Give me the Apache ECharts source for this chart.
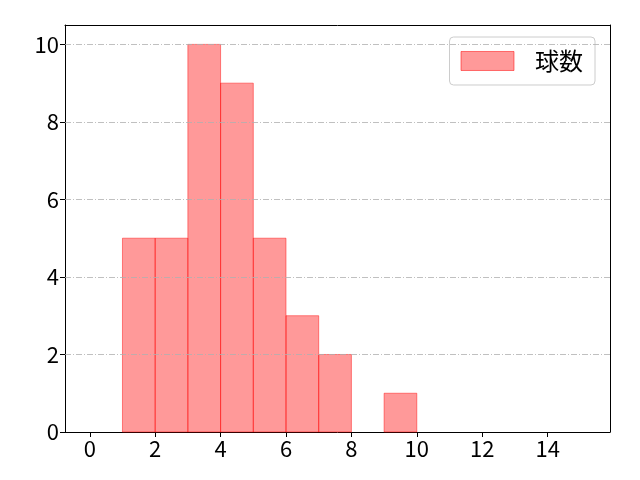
<!DOCTYPE html>
<html><head><meta charset="utf-8">
<script src="https://cdn.jsdelivr.net/npm/echarts@6/dist/echarts.min.js"></script>
<style>html,body{margin:0;padding:0;background:#fff}#c{width:640px;height:480px}</style>
</head><body><div id="c"></div>
<script>
var binStarts = [0,1,2,3,4,5,6,7,8,9,10,11,12,13,14];
var binEnds   = [1,2,3,4,5,6,7,8,9,10,11,12,13,14,15];
var counts    = [0,5,5,10,9,5,3,2,0,1,0,0,0,0,0];
var xTicks = [0,2,4,6,8,10,12,14];
var yTicks = [0,2,4,6,8,10];
var seriesName = '球数';

var data = binStarts.map(function(s,i){return [s, binEnds[i], counts[i]];});
var font = '"Noto Sans CJK JP", "DejaVu Sans", sans-serif';
var spine = {show:true, onZero:false, lineStyle:{color:'#000', width:1}};
var chart = echarts.init(document.getElementById('c'), null, {renderer:'canvas'});
chart.setOption({
  animation:false,
  backgroundColor:'#fff',
  grid:{left:65,right:30,top:25,bottom:48,containLabel:false},
  legend:{
    right:45, top:37, orient:'vertical',
    data:[{name:seriesName, icon:'rect'}],
    itemWidth:53, itemHeight:19,
    padding:[12,12,12,11],
    borderColor:'#cccccc', borderWidth:1, borderRadius:4,
    backgroundColor:'#fff',
    textStyle:{fontFamily:font, fontSize:24, color:'#000', padding:[0,0,0,16]},
    itemStyle:{color:'rgba(255,0,0,0.4)', borderColor:'rgba(255,0,0,0.5)', borderWidth:1}
  },
  xAxis:[{
    type:'value', min:-0.757, max:15.907,
    axisLine:spine,
    axisTick:{show:true, length:5, inside:false, customValues:xTicks, lineStyle:{color:'#000'}},
    axisLabel:{customValues:xTicks, fontFamily:font, fontSize:22, color:'#000', margin:6},
    splitLine:{show:false}
  },{
    type:'value', position:'top', min:-0.757, max:15.907,
    axisLine:spine, axisTick:{show:false}, axisLabel:{show:false}, splitLine:{show:false}
  }],
  yAxis:[{
    type:'value', min:0, max:10.5,
    axisLine:spine,
    axisTick:{show:true, length:5, customValues:yTicks, lineStyle:{color:'#000'}},
    axisLabel:{customValues:yTicks, fontFamily:font, fontSize:22, color:'#000', margin:6},
    splitLine:{show:false}
  },{
    type:'value', position:'right', min:0, max:10.5,
    axisLine:spine, axisTick:{show:false}, axisLabel:{show:false}, splitLine:{show:false}
  }],
  series:[
    {
      type:'custom', name:seriesName, data:data, z:2,
      itemStyle:{color:'rgba(255,0,0,0.4)'},
      renderItem:function(params, api){
        if (!(api.value(2) > 0)) return null;
        var p0 = api.coord([api.value(0), 0]);
        var p1 = api.coord([api.value(1), api.value(2)]);
        return {type:'rect', shape:{x:p0[0], y:p1[1], width:p1[0]-p0[0], height:p0[1]-p1[1]},
          style:{fill:'rgba(255,0,0,0.4)', stroke:'rgba(255,0,0,0.45)', lineWidth:1}};
      }
    },
    {
      type:'line', name:'grid', data:[], z:3, silent:true,
      markLine:{
        silent:true, symbol:['none','none'], label:{show:false},
        lineStyle:{color:'#b0b0b0', width:0.8, type:[6,2,1,2]},
        data:yTicks.slice(1).map(function(v){return {yAxis:v};})
      }
    }
  ]
});
</script></body></html>
